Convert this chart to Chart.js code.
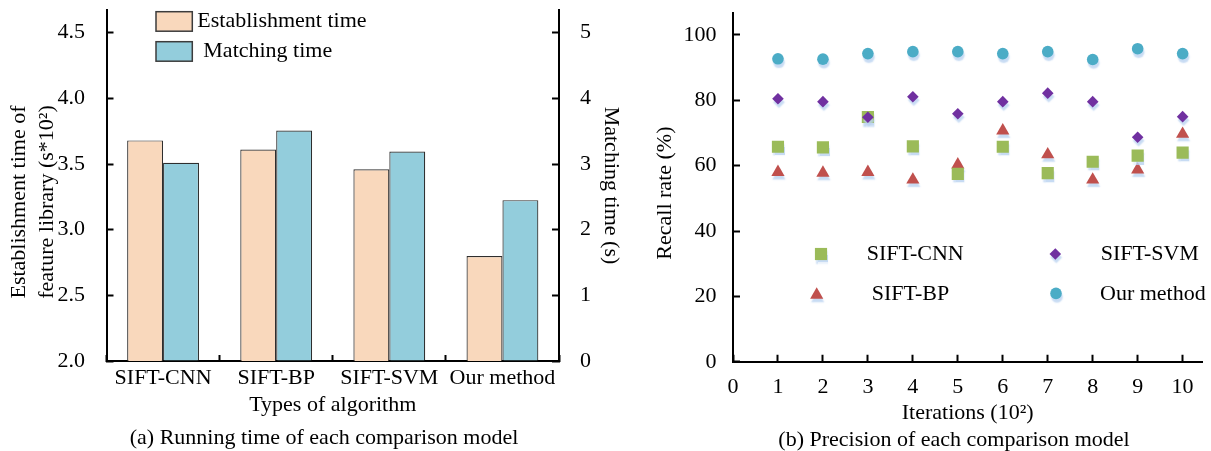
<!DOCTYPE html>
<html>
<head>
<meta charset="utf-8">
<script src="https://cdn.jsdelivr.net/npm/chart.js@4.4.0/dist/chart.umd.min.js"></script>
<style>
body { margin: 0; background: #fff; width: 1211px; height: 451px; overflow: hidden; position: relative; font-family: "Liberation Serif", "Times New Roman", serif; }
canvas { position: absolute; top: 0; }
#time-chart { left: 0; }
#recall-chart { left: 625px; }
.caption { position: absolute; font-size: 22px; line-height: 26px; white-space: nowrap; transform: translateX(-50%); color: #000; }
</style>
</head>
<body>
<canvas id="time-chart" width="625" height="451"></canvas>
<canvas id="recall-chart" width="586" height="451"></canvas>
<div class="caption" style="left:324px; top:424px">(a) Running time of each comparison model</div>
<div class="caption" style="left:954px; top:426px">(b) Precision of each comparison model</div>
<script>
// (a) running time
const algorithms = ["SIFT-CNN", "SIFT-BP", "SIFT-SVM", "Our method"];
const establishmentTime = [3.68, 3.61, 3.46, 2.80];   // s*10^2, left axis
const matchingTime = [3.02, 3.51, 3.19, 2.45];        // s, right axis

// (b) recall rate per iteration (10^2)
const iterations = [1, 2, 3, 4, 5, 6, 7, 8, 9, 10];
const siftCnnRecall = [65.8, 65.6, 74.9, 65.9, 57.5, 65.8, 57.7, 61.2, 63.1, 64.0];
const siftBpRecall = [58.0, 57.8, 58.0, 55.7, 60.3, 70.7, 63.4, 55.7, 58.8, 69.7];
const siftSvmRecall = [80.5, 79.6, 74.8, 81.1, 75.9, 79.6, 82.2, 79.6, 68.7, 75.0];
const ourRecall = [92.7, 92.6, 94.3, 94.9, 94.9, 94.3, 94.9, 92.5, 95.8, 94.3];

const serif = "'Liberation Serif', 'Times New Roman', serif";
Chart.defaults.font.family = serif;
Chart.defaults.font.size = 22;
Chart.defaults.color = "#000";
Chart.defaults.animation = false;

function fixWidth(w)
{
	return scale => { scale.width = w; scale.paddingTop = 0; scale.paddingBottom = 0; };
}

function fixHeight(h)
{
	return scale => { scale.height = h; scale.paddingLeft = 0; scale.paddingRight = 0; };
}

// ticks point inwards, hence the negative length
function axisLines(tickLength, extra)
{
	return {
		border: { display: true, color: "#000", width: 2 },
		grid: Object.assign({ drawOnChartArea: false, drawTicks: true, tickLength, tickColor: "#000", tickWidth: 2 }, extra || {})
	};
}

function toPoints(values)
{
	return values.map((v, i) => ({ x: iterations[i], y: v }));
}

const barLegend =
{
	id: "barLegend",
	afterDraw(chart)
	{
		const ctx = chart.ctx;
		const left = chart.chartArea.left;
		const rows = [ { y: 11.7, textX: 197.3 }, { y: 41.7, textX: 203.3 } ];

		ctx.save();
		chart.data.datasets.forEach((ds, i) =>
		{
			const row = rows[i];
			ctx.fillStyle = ds.backgroundColor;
			ctx.fillRect(left + 49.5, row.y, 36.3, 19.5);
			ctx.lineWidth = 1.5;
			ctx.strokeStyle = "#3c3c3c";
			ctx.strokeRect(left + 49.5, row.y, 36.3, 19.5);

			ctx.fillStyle = "#000";
			ctx.font = "22px " + serif;
			ctx.textBaseline = "middle";
			ctx.fillText(ds.label, row.textX, row.y + 10);
		});
		ctx.restore();
	}
};

function setShadow(ctx)
{
	ctx.shadowColor = "rgba(185, 210, 240, 0.8)";
	ctx.shadowOffsetX = 1;
	ctx.shadowOffsetY = 3.5;
	ctx.shadowBlur = 1.5;
}

const markerShadow =
{
	id: "markerShadow",
	beforeDatasetsDraw(chart)
	{
		chart.ctx.save();
		setShadow(chart.ctx);
	},
	afterDatasetsDraw(chart)
	{
		chart.ctx.restore();
	}
};

const scatterLegend =
{
	id: "scatterLegend",
	afterDraw(chart)
	{
		const ctx = chart.ctx;
		const { left, top } = chart.chartArea;
		// CNN, BP, SVM, Our method
		const spots = [
			{ mx: 88, my: 240.6, tx: 133.7 },
			{ mx: 83.7, my: 281.5, tx: 138.7 },
			{ mx: 322.3, my: 240.6, tx: 367.7 },
			{ mx: 323, my: 280, tx: 367 }
		];

		ctx.save();
		chart.data.datasets.forEach((ds, i) =>
		{
			const s = spots[i];
			ctx.save();
			setShadow(ctx);
			ctx.fillStyle = ds.pointBackgroundColor;
			Chart.helpers.drawPoint(ctx, { pointStyle: ds.pointStyle, radius: ds.pointRadius, rotation: 0, borderWidth: 0 }, left + s.mx, top + s.my);
			ctx.restore();

			ctx.fillStyle = "#000";
			ctx.font = "22px " + serif;
			ctx.textBaseline = "middle";
			ctx.fillText(ds.label, left + s.tx, top + (i % 2 ? 281 : 240.6));
		});
		ctx.restore();
	}
};

new Chart(document.getElementById("time-chart"),
{
	type: "bar",
	data:
	{
		labels: algorithms,
		datasets:
		[
			{ label: "Establishment time", data: establishmentTime, yAxisID: "y", backgroundColor: "#f9d8bc", borderColor: "#2e2e2e", borderWidth: 1.2, categoryPercentage: 0.635, barPercentage: 1 },
			{ label: "Matching time", data: matchingTime, yAxisID: "y1", backgroundColor: "#93cddc", borderColor: "#2e2e2e", borderWidth: 1.2, categoryPercentage: 0.635, barPercentage: 1 }
		]
	},
	options:
	{
		responsive: false,
		events: [],
		layout: { padding: { top: 10, left: 0, right: 0, bottom: 0 } },
		plugins: { legend: { display: false }, tooltip: { enabled: false } },
		scales:
		{
			x:
			{
				...axisLines(-6, { offset: true }),
				ticks: { padding: 9.8 },
				title: { display: true, text: "Types of algorithm", padding: { top: 0, bottom: 32.8 } },
				afterFit: fixHeight(90)
			},
			y:
			{
				...axisLines(-7),
				position: "left",
				min: 2,
				max: 4.673,
				ticks: { stepSize: 0.5, includeBounds: false, padding: 28.5, callback: v => v.toFixed(1) },
				title: { display: true, text: ["Establishment time of      ", "feature library (s*10²)      "], padding: { top: 6, bottom: 0 }, font: { size: 22, lineHeight: 1.24 } },
				afterFit: fixWidth(106.5)
			},
			y1:
			{
				...axisLines(-7),
				position: "right",
				min: 0,
				max: 5.346,
				ticks: { stepSize: 1, includeBounds: false, padding: 28 },
				title: { display: true, text: "Matching time (s)", padding: { top: 1, bottom: 0 } },
				afterFit: fixWidth(66)
			}
		}
	},
	plugins: [ barLegend ]
});

new Chart(document.getElementById("recall-chart"),
{
	type: "scatter",
	data:
	{
		datasets:
		[
			{ label: "SIFT-CNN", data: toPoints(siftCnnRecall), pointStyle: "rect", pointRadius: 8.6, pointBackgroundColor: "#9bbb59", pointBorderWidth: 0, order: 1 },
			{ label: "SIFT-BP", data: toPoints(siftBpRecall), pointStyle: "triangle", pointRadius: 7.6, pointBackgroundColor: "#c0504d", pointBorderWidth: 0, order: 2 },
			{ label: "SIFT-SVM", data: toPoints(siftSvmRecall), pointStyle: "rectRot", pointRadius: 5.8, pointBackgroundColor: "#7030a0", pointBorderWidth: 0, order: 0 },
			{ label: "Our method", data: toPoints(ourRecall), pointStyle: "circle", pointRadius: 5.8, pointBackgroundColor: "#4bacc6", pointBorderWidth: 0, order: 3 }
		]
	},
	options:
	{
		responsive: false,
		events: [],
		layout: { padding: { top: 13.4, left: 0, right: 3, bottom: 0 } },
		plugins: { legend: { display: false }, tooltip: { enabled: false } },
		scales:
		{
			x:
			{
				...axisLines(-7),
				type: "linear",
				min: 0,
				max: 10.44,
				ticks: { stepSize: 1, includeBounds: false, padding: 19 },
				title: { display: true, text: "Iterations (10²)", padding: { top: 0, bottom: 25 } },
				afterFit: fixHeight(89.25)
			},
			y:
			{
				...axisLines(-7),
				min: 0,
				max: 106.6,
				ticks: { stepSize: 20, includeBounds: false, padding: 23.5 },
				title: { display: true, text: "Recall rate (%)  ", padding: { top: 26.8, bottom: 0 } },
				afterFit: fixWidth(108)
			}
		}
	},
	plugins: [ markerShadow, scatterLegend ]
});
</script>
</body>
</html>
